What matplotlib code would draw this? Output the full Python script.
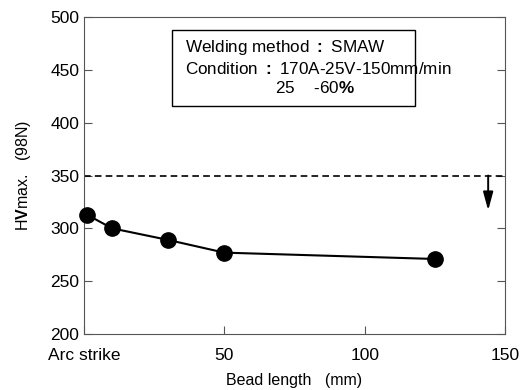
import matplotlib.pyplot as plt
from matplotlib.patches import Rectangle

plt.rcParams['font.family'] = ['Liberation Sans', 'DejaVu Sans']
plt.rcParams['mathtext.fontset'] = 'custom'
plt.rcParams['mathtext.rm'] = 'Liberation Sans'
plt.rcParams['mathtext.bf'] = 'Liberation Sans:bold'

# data
bead_length = [1, 10, 30, 50, 125]
hv_max = [313, 300, 289, 277, 271]
limit_hv = 350
arrow_x = 144
arrow_to = 317
xtick_pos = [0, 50, 100, 150]
xtick_lab = ["Arc strike", "50", "100", "150"]

fig = plt.figure(figsize=(5.23, 3.90), dpi=100)
ax = fig.add_axes([0.1606, 0.1436, 0.805, 0.8128])

ax.plot(bead_length, hv_max, color='black', lw=1.5, marker='o', ms=11,
        clip_on=False, zorder=3)
ax.axhline(limit_hv, color='black', ls=(0, (4, 2.5)), lw=1.2)
ax.annotate("", xy=(arrow_x, arrow_to), xytext=(arrow_x, limit_hv),
            arrowprops=dict(arrowstyle='-|>,head_width=0.3,head_length=1.1',
                            color='black', lw=1.4, shrinkA=0, shrinkB=0))

ax.set_xlim(0, 150)
ax.set_ylim(200, 500)
ax.set_yticks(range(200, 501, 50))
ax.set_xticks(xtick_pos)
ax.set_xticklabels(xtick_lab)
ax.tick_params(direction='in', right=True, top=False, labelsize=12.5, length=6,
               color='#555555')
ax.tick_params(axis='x', pad=10)
for s in ax.spines.values():
    s.set_color('#555555')

ax.set_xlabel("Bead length   (mm)", fontsize=11.5, labelpad=7)
ax.set_ylabel(r"H$\mathbf{V}$max.   (98N)", fontsize=11.5, labelpad=12)

# condition box
ax.add_patch(Rectangle((0.209, 0.719), 0.577, 0.24, transform=ax.transAxes,
                       fc='white', ec='black', lw=1, zorder=4))
box_text = ("Welding method $\\mathbf{:}$ SMAW\n"
            "Condition $\\mathbf{:}$ 170A-25V-150mm/min\n"
            "                   25    -60$\\mathbf{\\%}$")
ax.text(0.24, 0.842, box_text, transform=ax.transAxes, fontsize=12.3,
        va='center', ha='left', linespacing=1.25, zorder=5)

fig.savefig("out.png", dpi=100)
